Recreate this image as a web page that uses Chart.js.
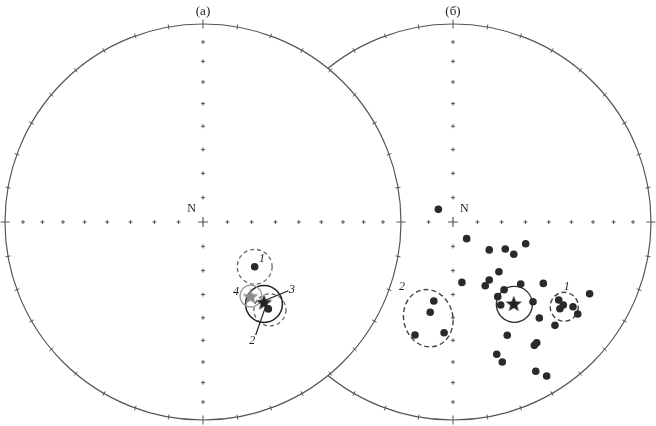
<!DOCTYPE html>
<html>
<head>
<meta charset="utf-8">
<script src="https://cdn.jsdelivr.net/npm/chart.js@4"></script>
<style>
  body { margin: 0; background: #fff; }
  #wrap { width: 656px; height: 426px; }
</style>
</head>
<body>
<div id="wrap"><canvas id="stereo" width="656" height="426"></canvas></div>
<script>
// Стереограммы (равноплощадная проекция), координаты - в долях радиуса сетки
const panelTitles = ['(а)', '(б)'];

// (а) средние по сайтам (точки), общее среднее (звезда 3), эталон (серая звезда 4)
const sitesA_x = [0.261, 0.330];
const sitesA_y = [-0.226, -0.439];
const meanA_x = [0.308];
const meanA_y = [-0.404];
const refA_x = [0.240];
const refA_y = [-0.374];

// круги доверия (а)
const conesA_x = [0.261, 0.338, 0.308, 0.242];
const conesA_y = [-0.226, -0.444, -0.414, -0.374];
const conesA_r = [0.088, 0.081, 0.093, 0.055];
const conesA_kind = ['dash', 'dash', 'solid', 'grey'];

// подписи (а)
const labelsA_text = ['1', '4', '3', '2'];
const labelsA_x = [0.298, 0.167, 0.449, 0.249];
const labelsA_y = [-0.187, -0.352, -0.343, -0.601];
// выноски (а): от подписи к знаку
const leadersA_x0 = [0.431, 0.266];
const leadersA_y0 = [-0.347, -0.571];
const leadersA_x1 = [0.297, 0.322];
const leadersA_y1 = [-0.403, -0.411];

// (б) индивидуальные направления
const dotsB_x = [-0.074, 0.069, 0.183, 0.264, 0.307, 0.367, 0.232, 0.183, 0.163, 0.045,
                 0.342, 0.456, 0.258, 0.226, 0.241, 0.404, 0.690, 0.534, 0.557, 0.540,
                 0.606, 0.630, 0.436, 0.515, 0.274, 0.423, 0.411, 0.221, 0.249, 0.418,
                 0.473, -0.097, -0.115, -0.192, -0.045];
const dotsB_y = [0.064, -0.084, -0.141, -0.136, -0.163, -0.110, -0.251, -0.293, -0.322, -0.305,
                 -0.313, -0.310, -0.342, -0.377, -0.419, -0.403, -0.362, -0.394, -0.419, -0.438,
                 -0.428, -0.465, -0.485, -0.522, -0.572, -0.610, -0.623, -0.668, -0.707, -0.754,
                 -0.778, -0.399, -0.456, -0.571, -0.559];
const meanB_x = [0.307];
const meanB_y = [-0.411];
const meanConeB = [0.310, -0.416, 0.091];

// эллипсы групп (б): центр, полуоси, поворот (град)
const ellB_x = [0.562, -0.125];
const ellB_y = [-0.428, -0.486];
const ellB_rx = [0.071, 0.124];
const ellB_ry = [0.073, 0.146];
const ellB_rot = [0, -14];

const labelsB_text = ['1', '2'];
const labelsB_x = [0.574, -0.258];
const labelsB_y = [-0.327, -0.330];

// углы сетки (равноплощадная): 10..80 градусов
const gridAngles = [10, 20, 30, 40, 50, 60, 70, 80];

// геометрия листа
const W = 656, H = 426, RPX = 198, CY = 222, CXA = 203, CXB = 453;

const INK = '#555';
const SERIF = '"Liberation Serif", "DejaVu Serif", serif';

function makeStar(outer, fill) {
  const c = document.createElement('canvas');
  const s = Math.ceil(outer * 2 + 2);
  c.width = s; c.height = s;
  const g = c.getContext('2d');
  g.translate(s / 2, s / 2 + outer * 0.1);
  g.beginPath();
  for (let i = 0; i < 10; i++) {
    const r = i % 2 === 0 ? outer : outer * 0.42;
    const a = -Math.PI / 2 + i * Math.PI / 5;
    g.lineTo(r * Math.cos(a), r * Math.sin(a));
  }
  g.closePath();
  g.fillStyle = fill;
  g.fill();
  return c;
}

const starBlack = makeStar(8.5, '#222');
const starGrey = makeStar(8.5, '#8c8c8c');

function pts(xs, ys) {
  return xs.map((x, i) => ({ x: x, y: ys[i] }));
}

function netGeom(chart, xId) {
  const sx = chart.scales[xId], sy = chart.scales.y;
  return {
    cx: sx.getPixelForValue(0),
    cy: sy.getPixelForValue(0),
    R: sx.getPixelForValue(1) - sx.getPixelForValue(0)
  };
}

function drawNet(ctx, n, cover, nSide, title) {
  // фон и контур
  ctx.beginPath();
  ctx.arc(n.cx, n.cy, n.R, 0, Math.PI * 2);
  ctx.fillStyle = '#fff';
  ctx.fill();
  ctx.strokeStyle = INK;
  ctx.lineWidth = 1.2;
  ctx.stroke();

  // засечки по окружности через 10 град
  ctx.lineWidth = 1;
  for (let a = 0; a < 360; a += 10) {
    const t = a * Math.PI / 180;
    const big = a % 90 === 0;
    const d = big ? 4.5 : 2.5;
    const ux = Math.sin(t), uy = -Math.cos(t);
    ctx.beginPath();
    ctx.moveTo(n.cx + ux * (n.R - d), n.cy + uy * (n.R - d));
    ctx.lineTo(n.cx + ux * (n.R + d), n.cy + uy * (n.R + d));
    ctx.stroke();
  }

  // крестики по осям
  const dirs = [[1, 0], [-1, 0], [0, 1], [0, -1]];
  gridAngles.forEach(g => {
    const r = n.R * Math.SQRT2 * Math.sin(g / 2 * Math.PI / 180);
    dirs.forEach(([dx, dy]) => {
      const px = n.cx + dx * r, py = n.cy + dy * r;
      if (cover && Math.hypot(px - cover.cx, py - cover.cy) < cover.R + 6) return;
      ctx.beginPath();
      ctx.moveTo(px - 2, py); ctx.lineTo(px + 2, py);
      ctx.moveTo(px, py - 2); ctx.lineTo(px, py + 2);
      ctx.stroke();
    });
  });
  ctx.lineWidth = 1.2;
  ctx.beginPath();
  ctx.moveTo(n.cx - 5, n.cy); ctx.lineTo(n.cx + 5, n.cy);
  ctx.moveTo(n.cx, n.cy - 5); ctx.lineTo(n.cx, n.cy + 5);
  ctx.stroke();

  ctx.fillStyle = '#222';
  ctx.font = '12px ' + SERIF;
  ctx.textBaseline = 'middle';
  ctx.textAlign = nSide < 0 ? 'right' : 'left';
  ctx.fillText('N', n.cx + nSide * 7, n.cy - 13);

  ctx.font = '13px ' + SERIF;
  ctx.textAlign = 'center';
  ctx.fillText(title, n.cx, n.cy - n.R - 12);
}

const stereoPlugin = {
  id: 'stereoPlugin',
  beforeDatasetsDraw(chart) {
    const ctx = chart.ctx;
    const A = netGeom(chart, 'xa');
    const B = netGeom(chart, 'xb');
    const sxa = chart.scales.xa, sxb = chart.scales.xb, sy = chart.scales.y;
    ctx.save();
    drawNet(ctx, B, A, 1, panelTitles[1]);
    drawNet(ctx, A, null, -1, panelTitles[0]);

    // круги доверия (а)
    conesA_x.forEach((x, i) => {
      const k = conesA_kind[i];
      ctx.beginPath();
      ctx.arc(sxa.getPixelForValue(x), sy.getPixelForValue(conesA_y[i]), conesA_r[i] * A.R, 0, Math.PI * 2);
      ctx.setLineDash(k === 'dash' ? [4, 3] : []);
      ctx.strokeStyle = k === 'grey' ? '#9a9a9a' : (k === 'dash' ? '#666' : '#222');
      ctx.lineWidth = k === 'solid' ? 1.5 : 1.3;
      ctx.stroke();
    });

    // (б) круг среднего и эллипсы групп
    ctx.setLineDash([]);
    ctx.strokeStyle = '#333';
    ctx.lineWidth = 1.4;
    ctx.beginPath();
    ctx.arc(sxb.getPixelForValue(meanConeB[0]), sy.getPixelForValue(meanConeB[1]), meanConeB[2] * B.R, 0, Math.PI * 2);
    ctx.stroke();

    ctx.setLineDash([5, 3]);
    ctx.strokeStyle = '#444';
    ellB_x.forEach((x, i) => {
      ctx.beginPath();
      ctx.ellipse(sxb.getPixelForValue(x), sy.getPixelForValue(ellB_y[i]),
        ellB_rx[i] * B.R, ellB_ry[i] * B.R, ellB_rot[i] * Math.PI / 180, 0, Math.PI * 2);
      ctx.stroke();
    });
    ctx.restore();
  },
  afterDatasetsDraw(chart) {
    const ctx = chart.ctx;
    const sxa = chart.scales.xa, sxb = chart.scales.xb, sy = chart.scales.y;
    ctx.save();
    ctx.strokeStyle = '#222';
    ctx.lineWidth = 1.2;
    leadersA_x0.forEach((x, i) => {
      ctx.beginPath();
      ctx.moveTo(sxa.getPixelForValue(x), sy.getPixelForValue(leadersA_y0[i]));
      ctx.lineTo(sxa.getPixelForValue(leadersA_x1[i]), sy.getPixelForValue(leadersA_y1[i]));
      ctx.stroke();
    });

    ctx.fillStyle = '#222';
    ctx.font = 'italic 12px ' + SERIF;
    ctx.textAlign = 'center';
    ctx.textBaseline = 'middle';
    labelsA_text.forEach((t, i) => {
      ctx.fillText(t, sxa.getPixelForValue(labelsA_x[i]), sy.getPixelForValue(labelsA_y[i]));
    });
    labelsB_text.forEach((t, i) => {
      ctx.fillText(t, sxb.getPixelForValue(labelsB_x[i]), sy.getPixelForValue(labelsB_y[i]));
    });
    ctx.restore();
  }
};

const dotStyle = { pointStyle: 'circle', pointRadius: 3.8, backgroundColor: '#2a2a2a', borderWidth: 0, showLine: false };

new Chart(document.getElementById('stereo'), {
  type: 'scatter',
  data: {
    datasets: [
      Object.assign({ label: 'сайты (а)', data: pts(sitesA_x, sitesA_y), xAxisID: 'xa' }, dotStyle),
      { label: 'эталон (а)', data: pts(refA_x, refA_y), xAxisID: 'xa', pointStyle: starGrey, pointRadius: 8 },
      { label: 'среднее (а)', data: pts(meanA_x, meanA_y), xAxisID: 'xa', pointStyle: starBlack, pointRadius: 8 },
      Object.assign({ label: 'образцы (б)', data: pts(dotsB_x, dotsB_y), xAxisID: 'xb' }, dotStyle),
      { label: 'среднее (б)', data: pts(meanB_x, meanB_y), xAxisID: 'xb', pointStyle: starBlack, pointRadius: 8 }
    ]
  },
  options: {
    responsive: false,
    animation: false,
    events: [],
    layout: { padding: 0, autoPadding: false },
    plugins: { legend: { display: false }, tooltip: { enabled: false } },
    scales: {
      xa: { type: 'linear', position: 'bottom', display: false, min: -CXA / RPX, max: (W - CXA) / RPX },
      xb: { type: 'linear', position: 'bottom', display: false, min: -CXB / RPX, max: (W - CXB) / RPX },
      y: { type: 'linear', display: false, min: -(H - CY) / RPX, max: CY / RPX }
    }
  },
  plugins: [stereoPlugin]
});
</script>
</body>
</html>
